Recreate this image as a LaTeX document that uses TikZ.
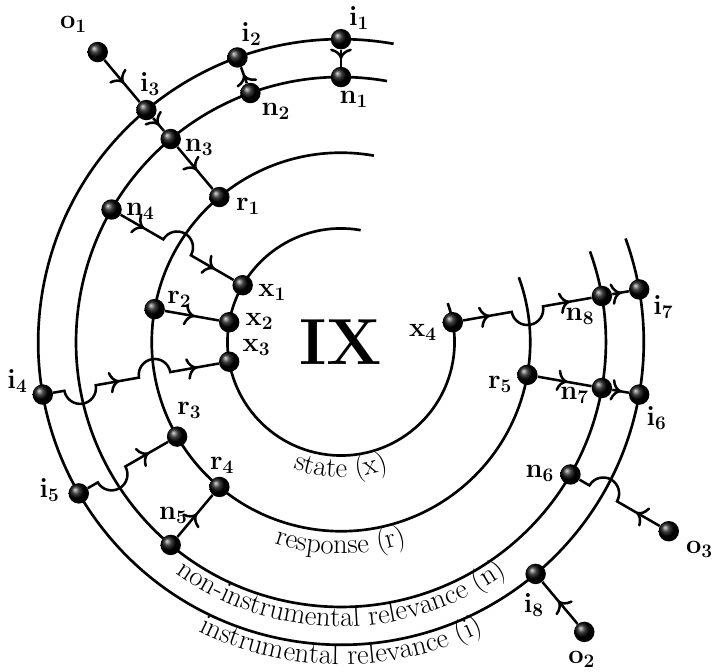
\RequirePackage{fix-cm}
\documentclass[tikz,border=0pt]{standalone}
\usetikzlibrary{calc,arrows.meta,decorations.markings,decorations.text,shadings}
\newcommand\arcfont{\fontsize{21.5}{26}\selectfont}
\newcommand\lblfont{\fontsize{20.5}{25}\selectfont}
\begin{document}
\begin{tikzpicture}[
  ringline/.style={line width=2pt},
  conn/.style={line width=1.9pt},
  bead/.style={circle, inner sep=0pt, minimum size=5.4mm, shading=ball, ball color=black},
  lbl/.style={font=\lblfont, inner sep=0pt},
  halfarrow/.style={line width=1.9pt, postaction={decorate},
    decoration={markings, mark=at position 0.55 with {\arrow{To[scale=1.35]}}}},
  ringtext/.style={decorate, decoration={text along path, text align=center, text={|\arcfont|#1}}}
]
\useasboundingbox (-9.01,-8.719) rectangle (9.855,9.036);

% rings
\foreach \R in {3,5,7,8}
  \draw[ringline] (80:\R) arc[start angle=80, end angle=380, radius=\R];

% ring captions
\path[ringtext={state (x)}] (190:3.58) arc[start angle=190, end angle=350, radius=3.58];
\path[ringtext={response (r)}] (190:5.6) arc[start angle=190, end angle=350, radius=5.6];
\path[ringtext={non-instrumental relevance (n)}] (190:7.52) arc[start angle=190, end angle=350, radius=7.52];
\path[ringtext={instrumental relevance (i)}] (190:8.52) arc[start angle=190, end angle=350, radius=8.52];

\node (ix) at (0,0) {\fontsize{49}{55}\selectfont\bfseries IX};

% nodes
\node[bead] (o1) at (130:10) {};
\node[bead] (i3) at (130:8) {};
\node[bead] (n3) at (130:7) {};
\node[bead] (r1) at (130:5) {};
\node[bead] (n4) at (150:7) {};
\node[bead] (i2) at (110:8) {};
\node[bead] (n2) at (110:7) {};
\node[bead] (i1) at (90:8) {};
\node[bead] (n1) at (90:7) {};
\node[bead] (x1) at (150:3) {};
\node[bead] (x2) at (170:3) {};
\node[bead] (x3) at (190:3) {};
\node[bead] (r2) at (170:5) {};
\node[bead] (i4) at (190:8) {};
\node[bead] (r3) at (210:5) {};
\node[bead] (i5) at (210:8) {};
\node[bead] (r4) at (230:5) {};
\node[bead] (n5) at (230:7) {};
\node[bead] (x4) at (10:3) {};
\node[bead] (r5) at (-10:5) {};
\node[bead] (n8) at (10:7) {};
\node[bead] (n7) at (-10:7) {};
\node[bead] (i7) at (10:8) {};
\node[bead] (i6) at (-10:8) {};
\node[bead] (n6) at (-30:7) {};
\node[bead] (o3) at (-30:10) {};
\node[bead] (i8) at (-50:8) {};
\node[bead] (o2) at (-50:10) {};

% labels
\node[lbl] (lo1) at ($(o1)+(-0.64,0.73)$) {$\mathbf{o_1}$};
\node[lbl] (li3) at ($(i3)+(0.10,0.68)$) {$\mathbf{i_3}$};
\node[lbl] (ln3) at ($(n3)+(0.75,-0.22)$) {$\mathbf{n_3}$};
\node[lbl] (lr1) at ($(r1)+(0.76,-0.25)$) {$\mathbf{r_1}$};
\node[lbl] (ln4) at ($(n4)+(0.76,-0.05)$) {$\mathbf{n_4}$};
\node[lbl] (li2) at ($(i2)+(0.37,0.63)$) {$\mathbf{i_2}$};
\node[lbl] (ln2) at ($(n2)+(0.67,-0.48)$) {$\mathbf{n_2}$};
\node[lbl] (li1) at ($(i1)+(0.48,0.56)$) {$\mathbf{i_1}$};
\node[lbl] (ln1) at ($(n1)+(0.34,-0.58)$) {$\mathbf{n_1}$};
\node[lbl] (lx1) at ($(x1)+(0.78,-0.20)$) {$\mathbf{x_1}$};
\node[lbl] (lx2) at ($(x2)+(0.80,0.02)$) {$\mathbf{x_2}$};
\node[lbl] (lx3) at ($(x3)+(0.72,0.38)$) {$\mathbf{x_3}$};
\node[lbl] (lr2) at ($(r2)+(0.65,0.26)$) {$\mathbf{r_2}$};
\node[lbl] (li4) at ($(i4)+(-0.67,0.36)$) {$\mathbf{i_4}$};
\node[lbl] (lr3) at ($(r3)+(0.32,0.68)$) {$\mathbf{r_3}$};
\node[lbl] (li5) at ($(i5)+(-0.77,0.09)$) {$\mathbf{i_5}$};
\node[lbl] (lr4) at ($(r4)+(0.07,0.58)$) {$\mathbf{r_4}$};
\node[lbl] (ln5) at ($(n5)+(0.07,0.77)$) {$\mathbf{n_5}$};
\node[lbl] (lx4) at ($(x4)+(-0.79,-0.28)$) {$\mathbf{x_4}$};
\node[lbl] (lr5) at ($(r5)+(-0.72,-0.26)$) {$\mathbf{r_5}$};
\node[lbl] (ln8) at ($(n8)+(-0.58,-0.53)$) {$\mathbf{n_8}$};
\node[lbl] (ln7) at ($(n7)+(-0.72,-0.20)$) {$\mathbf{n_7}$};
\node[lbl] (li7) at ($(i7)+(0.64,-0.47)$) {$\mathbf{i_7}$};
\node[lbl] (li6) at ($(i6)+(0.46,-0.62)$) {$\mathbf{i_6}$};
\node[lbl] (ln6) at ($(n6)+(-0.81,0.02)$) {$\mathbf{n_6}$};
\node[lbl] (lo3) at ($(o3)+(0.81,-0.49)$) {$\mathbf{o_3}$};
\node[lbl] (li8) at ($(i8)+(-0.05,-0.81)$) {$\mathbf{i_8}$};
\node[lbl] (lo2) at ($(o2)+(-0.07,-0.73)$) {$\mathbf{o_2}$};

% simple connectors
\draw[conn, halfarrow] (o1) -- (i3);
\draw[conn, halfarrow] (i3) -- (n3);
\draw[conn, halfarrow] (n3) -- (r1);
\draw[conn, halfarrow] (n2) -- (i2);
\draw[conn, halfarrow] (i1) -- (n1);
\draw[conn, halfarrow] (r2) -- (x2);
\draw[conn, halfarrow] (n5) -- (r4);
\draw[conn, halfarrow] (n8) -- (i7);
\draw[conn, halfarrow] (r5) -- (n7);
\draw[conn, halfarrow] (n7) -- (i6);
\draw[conn, halfarrow] (o2) -- (i8);

% hop points
\coordinate (h1s) at (150:5.42); \coordinate (h1e) at (150:4.58);
\coordinate (h2s) at (190:7.42); \coordinate (h2e) at (190:6.58);
\coordinate (h3s) at (190:5.42); \coordinate (h3e) at (190:4.58);
\coordinate (h4s) at (210:7.42); \coordinate (h4e) at (210:6.58);
\coordinate (h5s) at (10:4.58);  \coordinate (h5e) at (10:5.42);
\coordinate (h6s) at (-30:8.42); \coordinate (h6e) at (-30:7.58);

% connectors with hops
\draw[conn] (n4) -- (h1s) arc[start angle=150, delta angle=-180, radius=0.42] -- (x1);
\path[halfarrow] (n4) -- (h1s);
\path[halfarrow] (h1e) -- (x1);

\draw[conn] (i4) -- (h2s) arc[start angle=190, delta angle=180, radius=0.42]
  -- (h3s) arc[start angle=190, delta angle=-180, radius=0.42] -- (x3);
\path[halfarrow] (h2e) -- (h3s);
\path[halfarrow] (h3e) -- (x3);

\draw[conn] (i5) -- (h4s) arc[start angle=210, delta angle=180, radius=0.42] -- (r3);
\path[halfarrow] (h4e) -- (r3);

\draw[conn] (x4) -- (h5s) arc[start angle=190, delta angle=180, radius=0.42] -- (n8);
\path[halfarrow] (x4) -- (h5s);
\path[halfarrow] (h5e) -- (n8);

\draw[conn] (o3) -- (h6s) arc[start angle=-30, delta angle=180, radius=0.42] -- (n6);
\path[halfarrow] (o3) -- (h6s);
\end{tikzpicture}
\end{document}
